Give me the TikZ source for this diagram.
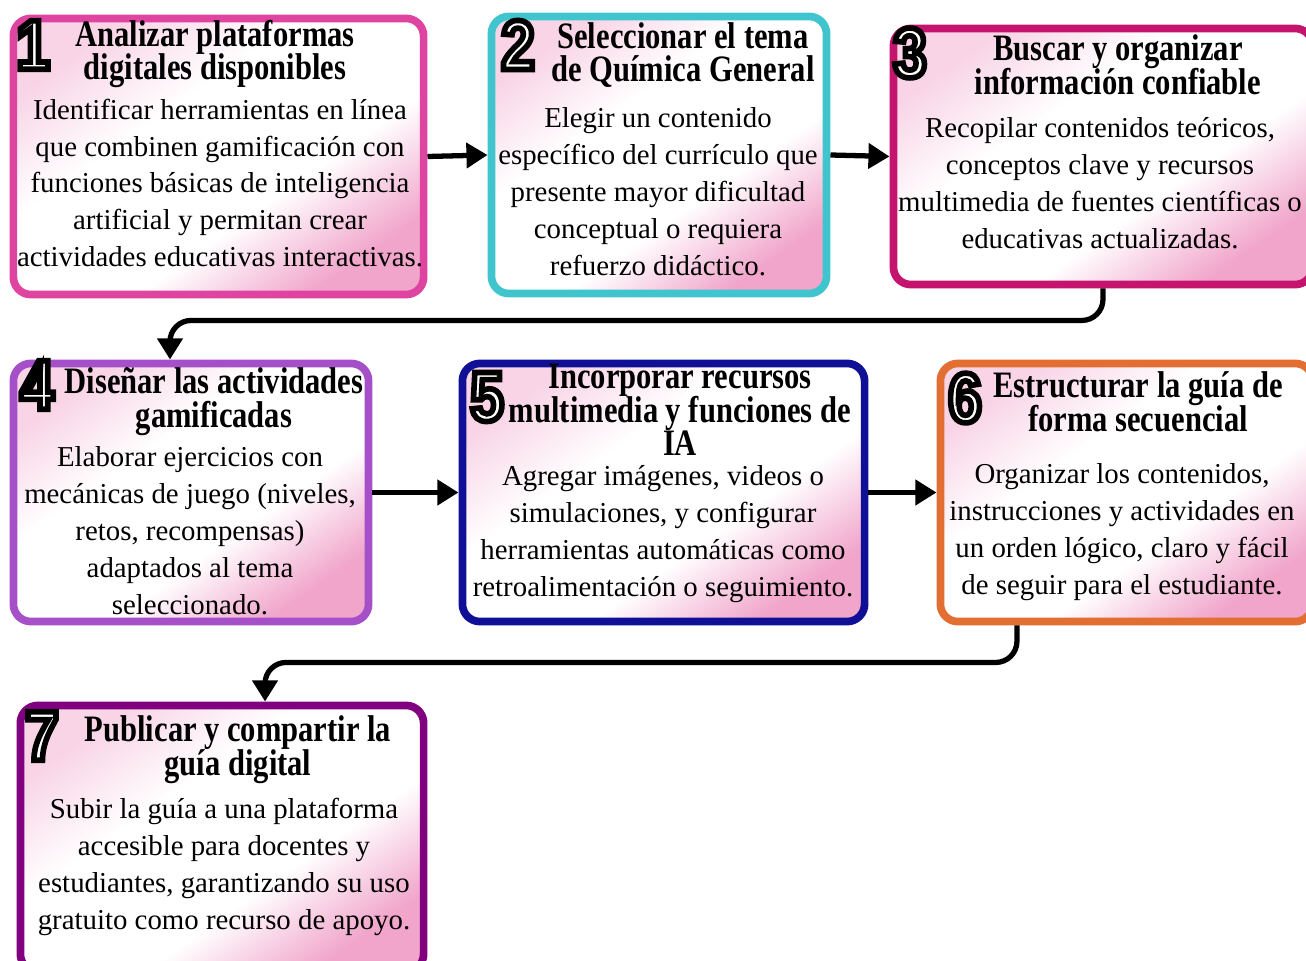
\documentclass[tikz,border=0pt]{standalone}
\usepackage{fontspec}
\setmainfont{Liberation Serif}
\newfontfamily\headfont{Liberation Serif}[FakeStretch=0.82]
\newfontfamily\digitfont{Liberation Sans}[FakeStretch=0.85]
\usetikzlibrary{arrows.meta}
\definecolor{rimA}{RGB}{222,68,160}
\definecolor{rimB}{RGB}{64,196,206}
\definecolor{rimC}{RGB}{196,20,110}
\definecolor{rimD}{RGB}{165,80,200}
\definecolor{rimE}{RGB}{16,16,150}
\definecolor{rimF}{RGB}{226,110,50}
\definecolor{rimG}{RGB}{128,0,128}
\definecolor{blush}{RGB}{240,160,200}
\pgfdeclareverticalshading{cardfill}{100bp}{color(0bp)=(blush!95); color(25bp)=(blush!95);
	color(40bp)=(white); color(60bp)=(white); color(75bp)=(blush!45); color(100bp)=(blush!45)}
\newcommand{\numfont}{\digitfont\bfseries\fontsize{20}{20}\selectfont}
\newcommand{\headtype}{\headfont\bfseries\fontsize{10.6}{9.6}\selectfont\lineskiplimit=-20pt\relax}
% white digit with a black outline
\newcommand{\hollow}[1]{\special{pdf:literal direct 0 0 0 RG 2 Tr 1.6 w}#1\special{pdf:literal direct 0 Tr}}

\begin{document}
\begin{tikzpicture}[x=0.01cm,y=-0.01cm,
	card/.style={draw=#1, line width=2.2pt, rounded corners=5pt, inner sep=0pt,
		shading=cardfill, shading angle=35},
	head/.style={align=center, inner sep=0pt, font=\headtype},
	body/.style={align=center, inner sep=0pt, font=\fontsize{8.2}{10.5}\selectfont},
	digit/.style={inner sep=0pt, text=white, font=\numfont},
	flow/.style={line width=1.5pt, rounded corners=6pt, -{Triangle[length=6pt,width=7pt]}}]
	\clip (0,0) rectangle (1306,961);
	\fill[white] (0,0) rectangle (1306,961);

	\node[card=rimA, minimum width=4.1cm, minimum height=2.76cm] (b1) at (218.5,156.5) {};
	\node[card=rimB, minimum width=3.35cm, minimum height=2.77cm] (b2) at (659,155) {};
	\node[card=rimC, minimum width=4.19cm, minimum height=2.56cm] (b3) at (1103,156.5) {};
	\node[card=rimD, minimum width=3.55cm, minimum height=2.58cm] (b4) at (191,492.5) {};
	\node[card=rimE, minimum width=4.02cm, minimum height=2.58cm] (b5) at (663.5,492.5) {};
	\node[card=rimF, minimum width=3.72cm, minimum height=2.58cm] (b6) at (1126.5,492.5) {};
	\node[card=rimG, minimum width=4.03cm, minimum height=2.66cm] (b7) at (222,838.5) {};

	\node[head] (t1) at (215,54) {Analizar plataformas\\digitales disponibles};
	\node[body] (d1) at (220,183) {Identificar herramientas en línea\\que combinen gamificación con\\funciones básicas de inteligencia\\artificial y permitan crear\\actividades educativas interactivas.};
	\node[head] (t2) at (683,55) {Seleccionar el tema\\de Química General};
	\node[body] (d2) at (658,192) {Elegir un contenido\\específico del currículo que\\presente mayor dificultad\\conceptual o requiera\\refuerzo didáctico.};
	\node[head] (t3) at (1118,65) {Buscar y organizar\\información confiable};
	\node[body] (d3) at (1100,183) {Recopilar contenidos teóricos,\\conceptos clave y recursos\\multimedia de fuentes científicas o\\educativas actualizadas.};
	\node[head] (t4) at (214,402) {Diseñar las actividades\\gamificadas};
	\node[body] (d4) at (190,531) {Elaborar ejercicios con\\mecánicas de juego (niveles,\\retos, recompensas)\\adaptados al tema\\seleccionado.};
	\node[head] (t5) at (680,410) {Incorporar recursos\\multimedia y funciones de\\IA};
	\node[body] (d5) at (663,534) {Agregar imágenes, videos o\\simulaciones, y configurar\\herramientas automáticas como\\retroalimentación o seguimiento.};
	\node[head] (t6) at (1138,402) {Estructurar la guía de\\forma secuencial};
	\node[body] (d6) at (1122,532) {Organizar los contenidos,\\instrucciones y actividades en\\un orden lógico, claro y fácil\\de seguir para el estudiante.};
	\node[head] (t7) at (238,750) {Publicar y compartir la\\guía digital};
	\node[body] (d7) at (224,867) {Subir la guía a una plataforma\\accesible para docentes y\\estudiantes, garantizando su uso\\gratuito como recurso de apoyo.};

	\node[digit] (n1) at (33,45) {\hollow{1}};
	\node[digit] (n2) at (518,45) {\hollow{2}};
	\node[digit] (n3) at (910,53) {\hollow{3}};
	\node[digit] (n4) at (37,385) {\hollow{4}};
	\node[digit] (n5) at (487,397) {\hollow{5}};
	\node[digit] (n6) at (965,398) {\hollow{6}};
	\node[digit] (n7) at (42,736) {\hollow{7}};

	\draw[flow] (b1.east) -- (b2.west);
	\draw[flow] (b2.east) -- (b3.west);
	\draw[flow] (b3.south) -- ++(0,32) -| ([xshift=-0.21cm]b4.north);
	\draw[flow] (b4.east) -- (b5.west);
	\draw[flow] (b5.east) -- (b6.west);
	\draw[flow] ([xshift=-1.095cm]b6.south) -- ++(0,37) -| ([xshift=0.43cm]b7.north);
\end{tikzpicture}
\end{document}
